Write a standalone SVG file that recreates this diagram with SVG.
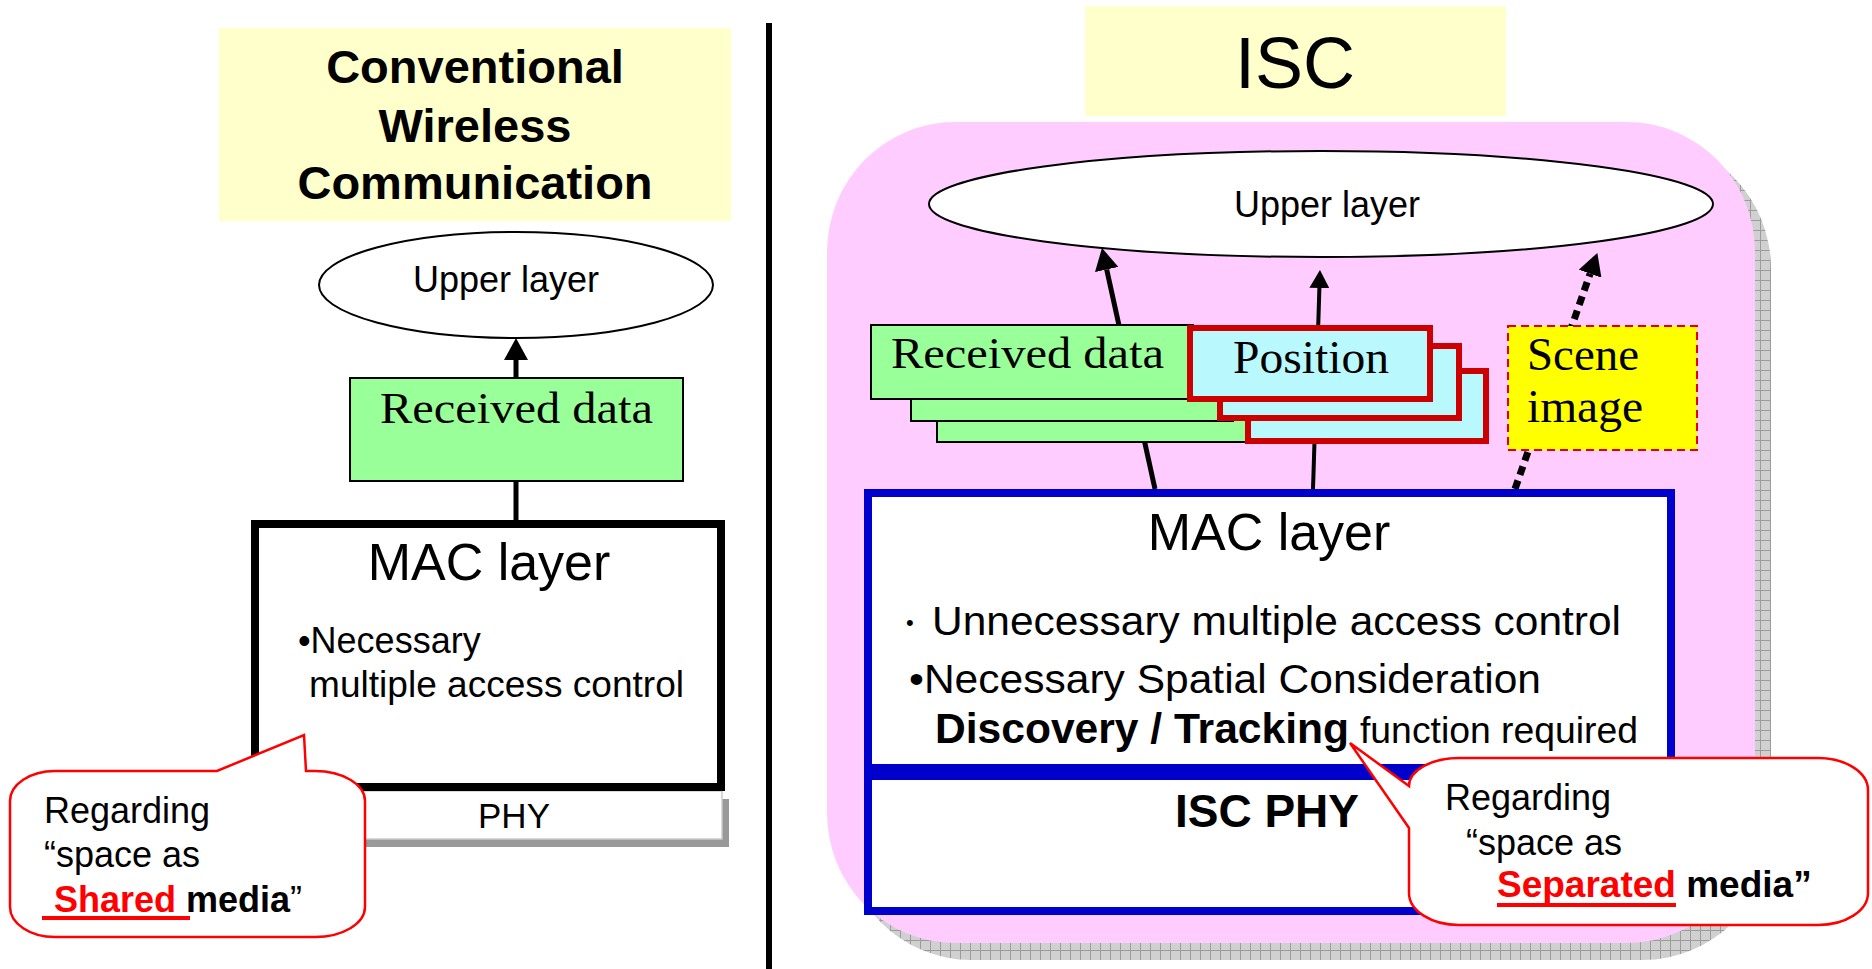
<svg xmlns="http://www.w3.org/2000/svg" width="1872" height="969" viewBox="0 0 1872 969">
<style>
.sans{font-family:"Liberation Sans",Arial,sans-serif;fill:#000}
.bold{font-weight:bold}
.serif{font-family:"Liberation Serif","Times New Roman",serif;fill:#000}
.title{fill:#FFFFCC}
.ell{fill:#fff;stroke:#000;stroke-width:2}
.green{fill:#99FF99;stroke:#000;stroke-width:2}
.cyan{fill:#B9F8FC;stroke:#CC0000;stroke-width:6}
.call{fill:#fff;stroke:#FF0000;stroke-width:2.5}
.conn{stroke:#000;fill:none}
</style>
<defs>
<pattern id="grid" width="10" height="10" patternUnits="userSpaceOnUse">
<rect width="10" height="10" fill="#d0d0d0"/>
<path d="M0 0.5H10M0.5 0V10" stroke="#9c9c9c" stroke-width="1"/>
</pattern>
<marker id="ahL" viewBox="0 0 10 10" refX="0" refY="5" markerWidth="22" markerHeight="24" markerUnits="userSpaceOnUse" orient="auto" preserveAspectRatio="none">
<path d="M0,0 L10,5 L0,10 Z" fill="#000"/>
</marker>
<marker id="ahS" viewBox="0 0 10 10" refX="0" refY="5" markerWidth="18" markerHeight="20" markerUnits="userSpaceOnUse" orient="auto" preserveAspectRatio="none">
<path d="M0,0 L10,5 L0,10 Z" fill="#000"/>
</marker>
</defs>

<rect width="1872" height="969" fill="#fff"/>

<!-- divider -->
<line x1="769" y1="23" x2="769" y2="969" stroke="#000" stroke-width="6"/>

<!-- LEFT PANEL -->
<g id="title-conventional">
<rect class="title" x="219" y="28" width="512" height="193"/>
<text class="sans bold" font-size="47" text-anchor="middle" x="475" y="83">Conventional</text>
<text class="sans bold" font-size="47" text-anchor="middle" x="475" y="142">Wireless</text>
<text class="sans bold" font-size="47" text-anchor="middle" x="475" y="199">Communication</text>
</g>

<!-- RIGHT PANEL background -->
<g id="title-isc">
<rect class="title" x="1085" y="6" width="421" height="110"/>
<text class="sans" font-size="72" text-anchor="middle" x="1295" y="88">ISC</text>
</g>
<g id="isc-area">
<rect x="843" y="139" width="928" height="821" rx="128" ry="130" fill="url(#grid)"/>
<rect x="827" y="122" width="928" height="821" rx="128" ry="130" fill="#FFCCFF"/>
</g>

<g id="upper-layer-left">
<ellipse class="ell" cx="516" cy="285" rx="197" ry="53"/>
<text class="sans" font-size="36" text-anchor="middle" x="506" y="292">Upper layer</text>
</g>
<g id="upper-layer-right">
<ellipse class="ell" cx="1321" cy="204" rx="392" ry="53"/>
<text class="sans" font-size="36" text-anchor="middle" x="1327" y="217">Upper layer</text>
</g>

<!-- connectors -->
<g id="connectors">
<line class="conn" x1="516" y1="520" x2="516" y2="360" stroke-width="5" marker-end="url(#ahL)"/>
<line class="conn" x1="1155" y1="489" x2="1106.7" y2="269.5" stroke-width="5" marker-end="url(#ahL)"/>
<line class="conn" x1="1313" y1="489" x2="1319.4" y2="288" stroke-width="4" marker-end="url(#ahS)"/>
<line class="conn" x1="1515" y1="489" x2="1590.1" y2="273.7" stroke-width="7" stroke-dasharray="9 6" marker-end="url(#ahL)"/>
</g>

<g id="received-data-left">
<rect class="green" x="350" y="378" width="333" height="103"/>
<text class="serif" font-size="44" x="380" y="423" textLength="273" lengthAdjust="spacingAndGlyphs">Received data</text>
</g>

<g id="phy-left">
<rect x="262" y="799" width="467" height="48" fill="#999"/>
<rect x="255" y="791" width="467" height="48" fill="#fff" stroke="#ccc" stroke-width="1.5"/>
<text class="sans" font-size="35" text-anchor="middle" x="514" y="828">PHY</text>
</g>

<g id="mac-left">
<rect x="255" y="524" width="466" height="263" fill="#fff" stroke="#000" stroke-width="8"/>
<text class="sans" font-size="52" text-anchor="middle" x="489" y="580">MAC layer</text>
<text class="sans" font-size="36" x="298" y="653">•Necessary</text>
<text class="sans" font-size="36" x="309" y="697" textLength="375" lengthAdjust="spacingAndGlyphs">multiple access control</text>
</g>

<g id="callout-shared">
<path class="call" d="M55,771 H217 L304,735 L306,771 H315 A50,30 0 0 1 365,801 V907 A50,30 0 0 1 315,937 H55 A45,30 0 0 1 10,907 V801 A45,30 0 0 1 55,771 Z"/>
<text class="sans" font-size="36" x="44" y="823">Regarding</text>
<text class="sans" font-size="36" x="44" y="867">“space as</text>
<text class="sans bold" font-size="36" x="54" y="912"><tspan fill="#FF0000">Shared</tspan> media<tspan font-weight="normal">”</tspan></text>
<rect x="42" y="916" width="148" height="4" fill="#FF0000"/>
</g>

<!-- RIGHT PANEL nodes -->
<g id="received-data-right">
<rect class="green" x="937" y="368" width="322" height="74"/>
<rect class="green" x="911" y="347" width="322" height="74"/>
<rect class="green" x="871" y="325" width="322" height="74"/>
<text class="serif" font-size="44" x="891" y="368" textLength="273" lengthAdjust="spacingAndGlyphs">Received data</text>
</g>

<g id="position">
<rect class="cyan" x="1248" y="371" width="238" height="70"/>
<rect class="cyan" x="1220" y="346" width="239" height="72"/>
<rect class="cyan" x="1190" y="328" width="240" height="71"/>
<text class="serif" font-size="46" x="1233" y="373" textLength="156" lengthAdjust="spacingAndGlyphs">Position</text>
</g>

<g id="scene-image">
<rect x="1508" y="326" width="189" height="124" fill="#FFFF00" stroke="#E00000" stroke-width="2" stroke-dasharray="8 5"/>
<text class="serif" font-size="46" x="1527" y="370" textLength="112" lengthAdjust="spacingAndGlyphs">Scene</text>
<text class="serif" font-size="46" x="1527" y="422" textLength="116" lengthAdjust="spacingAndGlyphs">image</text>
</g>

<g id="mac-right">
<rect x="868" y="493" width="803" height="275" fill="#fff" stroke="#0000CC" stroke-width="8"/>
<text class="sans" font-size="52" text-anchor="middle" x="1269" y="550">MAC layer</text>
<text class="sans" font-size="22" x="906" y="630">•</text>
<text class="sans" font-size="41" x="932" y="635" textLength="689" lengthAdjust="spacingAndGlyphs">Unnecessary multiple access control</text>
<text class="sans" font-size="41" x="909" y="693" textLength="632" lengthAdjust="spacingAndGlyphs">•Necessary Spatial Consideration</text>
<text class="sans bold" font-size="42" x="935" y="743" textLength="414" lengthAdjust="spacingAndGlyphs">Discovery / Tracking</text>
<text class="sans" font-size="37" x="1360" y="743" textLength="278" lengthAdjust="spacingAndGlyphs">function required</text>
</g>

<g id="isc-phy">
<rect x="868" y="776" width="803" height="135" fill="#fff" stroke="#0000CC" stroke-width="8"/>
<text class="sans bold" font-size="46" text-anchor="middle" x="1267" y="827">ISC PHY</text>
</g>

<g id="callout-separated">
<path class="call" d="M1459,758 H1818 A50,32 0 0 1 1868,790 V893 A50,32 0 0 1 1818,925 H1459 A50,32 0 0 1 1409,893 V828 L1350,743 L1409,786 A50,28 0 0 1 1459,758 Z"/>
<text class="sans" font-size="36" x="1445" y="810">Regarding</text>
<text class="sans" font-size="36" x="1466" y="855">“space as</text>
<text class="sans bold" font-size="37" x="1497" y="897"><tspan fill="#FF0000">Separated</tspan> media”</text>
<rect x="1497" y="903" width="179" height="4" fill="#FF0000"/>
</g>
</svg>
